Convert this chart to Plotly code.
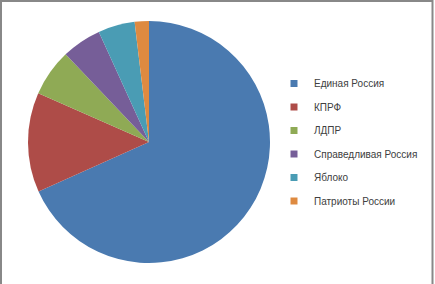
import plotly.graph_objects as go

labels = ["Единая Россия", "КПРФ", "ЛДПР", "Справедливая Россия", "Яблоко", "Патриоты России"]
values = [68.3, 13.3, 6.3, 5.3, 4.9, 1.9]
colors = ["#4A7AB0", "#AE4C48", "#8FAA55", "#765E98", "#4A9CB4", "#DE8A40"]

W, H = 435, 284
fig = go.Figure()
fig.add_trace(go.Pie(
    labels=labels, values=values, sort=False, direction="clockwise", rotation=0,
    marker=dict(colors=colors, line=dict(width=0)),
    textinfo="none", hoverinfo="label+percent", showlegend=False,
    domain=dict(x=[28 / W, 270 / W], y=[1 - 264 / H, 1 - 20 / H]),
))
for lab, col in zip(labels, colors):
    fig.add_trace(go.Scatter(
        x=[None], y=[None], mode="markers", name=lab, legendgroup=lab,
        marker=dict(symbol="square", size=7, color=col),
    ))

fig.update_layout(
    width=W, height=H, margin=dict(l=0, r=0, t=0, b=0),
    paper_bgcolor="white", plot_bgcolor="white",
    xaxis=dict(visible=False), yaxis=dict(visible=False),
    font=dict(family="Liberation Sans, Arial, sans-serif", size=10, color="#404040"),
    legend=dict(x=274 / W, y=1 - 69 / H, xanchor="left", yanchor="top",
                tracegroupgap=4.5, itemwidth=30, bgcolor="rgba(0,0,0,0)",
                font=dict(size=10, color="#404040")),
    shapes=[dict(type="rect", xref="paper", yref="paper",
                 x0=1 / W, x1=432.5 / W, y0=-0.2, y1=1 - 1 / H,
                 line=dict(color="#888888", width=2))],
)
fig.write_html("out.html")
